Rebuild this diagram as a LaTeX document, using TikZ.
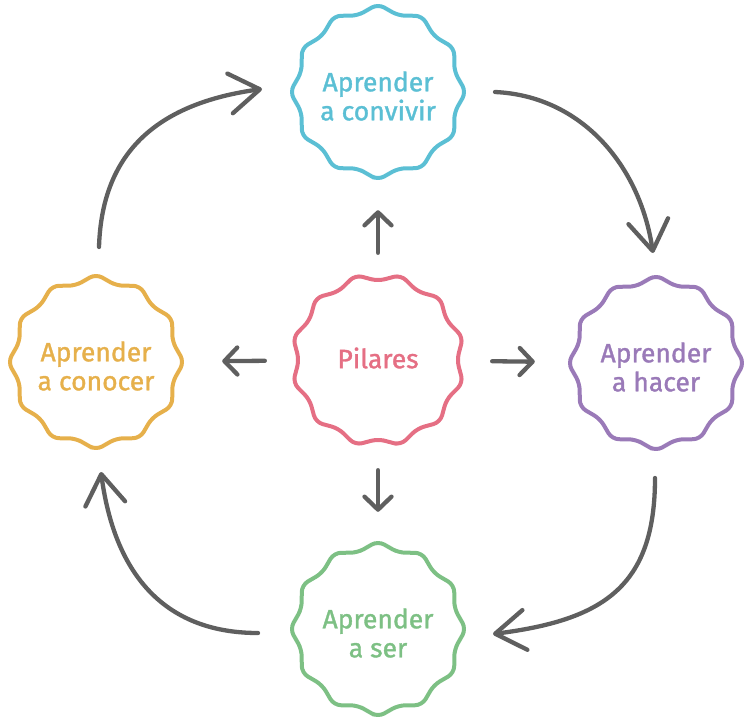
\documentclass[tikz,border=0pt]{standalone}
\usepackage{fontspec}
\setmainfont{Fira Sans}
\newfontfamily\lblfont{Fira Sans}[FakeBold=1.3]
\usetikzlibrary{arrows.meta,calc}
\definecolor{cConv}{HTML}{5BBFD4}
\definecolor{cPil}{HTML}{E56F84}
\definecolor{cCon}{HTML}{E6B04B}
\definecolor{cHac}{HTML}{9A7AB8}
\definecolor{cSer}{HTML}{7DC084}
\definecolor{arrgray}{HTML}{5F5F5F}
\tikzset{
  lbl/.style={align=center, inner sep=0pt, font=\lblfont\fontsize{26.5}{29}\selectfont},
  hub/.style={inner sep=0pt, minimum size=0pt},
  arr/.style={draw=arrgray, line width=4.3pt, line cap=round},
  bigtip/.style={-{Straight Barb[length=30pt,width=40pt,round]}},
  smalltip/.style={-{Straight Barb[length=13pt,width=27pt,round]}},
}
% 12-point star with shallow notches and rounded corners;
% #3 = angle of the first outer point (90: point at top, 75: notch at top)
\newcommand{\starshape}[3]{%
  \draw[#2, line width=4pt, line join=round, rounded corners=7pt, shift={(#1)}]
    ($(#3:88)!0.5!(#3+15:79)$)
    \foreach \k in {1,...,24} { -- ({#3+15*\k}:{88-9*mod(\k,2)}) }
    -- cycle;}
\begin{document}
\begin{tikzpicture}[x=1pt,y=-1pt]
\useasboundingbox (0,0) rectangle (751,717);
% shape centres
\node[hub] (conv) at (378,92) {};
\node[hub] (pil)  at (378,360) {};
\node[hub] (con)  at (96,362) {};
\node[hub] (hac)  at (656,363) {};
\node[hub] (ser)  at (378,629) {};
% outlines
\starshape{conv}{cConv}{90}
\starshape{pil}{cPil}{75}
\starshape{con}{cCon}{90}
\starshape{hac}{cHac}{90}
\starshape{ser}{cSer}{90}
% labels
\node[lbl, text=cConv] (convT) at ([yshift=-4pt]conv.center) {Aprender\\a convivir};
\node[lbl, text=cPil]  (pilT)  at ([yshift=2pt]pil.center) {Pilares};
\node[lbl, text=cCon]  (conT)  at ([yshift=-4pt]con.center) {Aprender\\a conocer};
\node[lbl, text=cHac]  (hacT)  at ([yshift=-4pt]hac.center) {Aprender\\a hacer};
\node[lbl, text=cSer]  (serT)  at ([yshift=-4pt]ser.center) {Aprender\\a ser};
% straight arrows from the centre
\draw[arr, smalltip, shorten <=107pt, shorten >=118pt] (pil) -- (conv);
\draw[arr, smalltip, shorten <=113pt, shorten >=126pt] (pil) -- (con);
\draw[arr, smalltip, shorten <=114pt, shorten >=121pt] (pil) -- (hac);
\draw[arr, smalltip, shorten <=110pt, shorten >=117pt] (pil) -- (ser);
% curved arrows
\coordinate (a1s) at (99,247);  \coordinate (a1e) at (262,89);
\coordinate (a2s) at (495,92);  \coordinate (a2e) at (653,253);
\coordinate (a3s) at (655,478); \coordinate (a3e) at (493,634);
\coordinate (a4s) at (258,633); \coordinate (a4e) at (101,472);
\draw[arr, bigtip] (a1s) .. controls (102,149) and (161,103) .. (a1e);
\draw[arr, bigtip] (a2s) .. controls (582,96) and (640,166) .. (a2e);
\draw[arr, bigtip] (a3s) .. controls (655,587) and (603,620) .. (a3e);
\draw[arr, bigtip] (a4s) .. controls (161,633) and (114,570) .. (a4e);
\end{tikzpicture}
\end{document}
